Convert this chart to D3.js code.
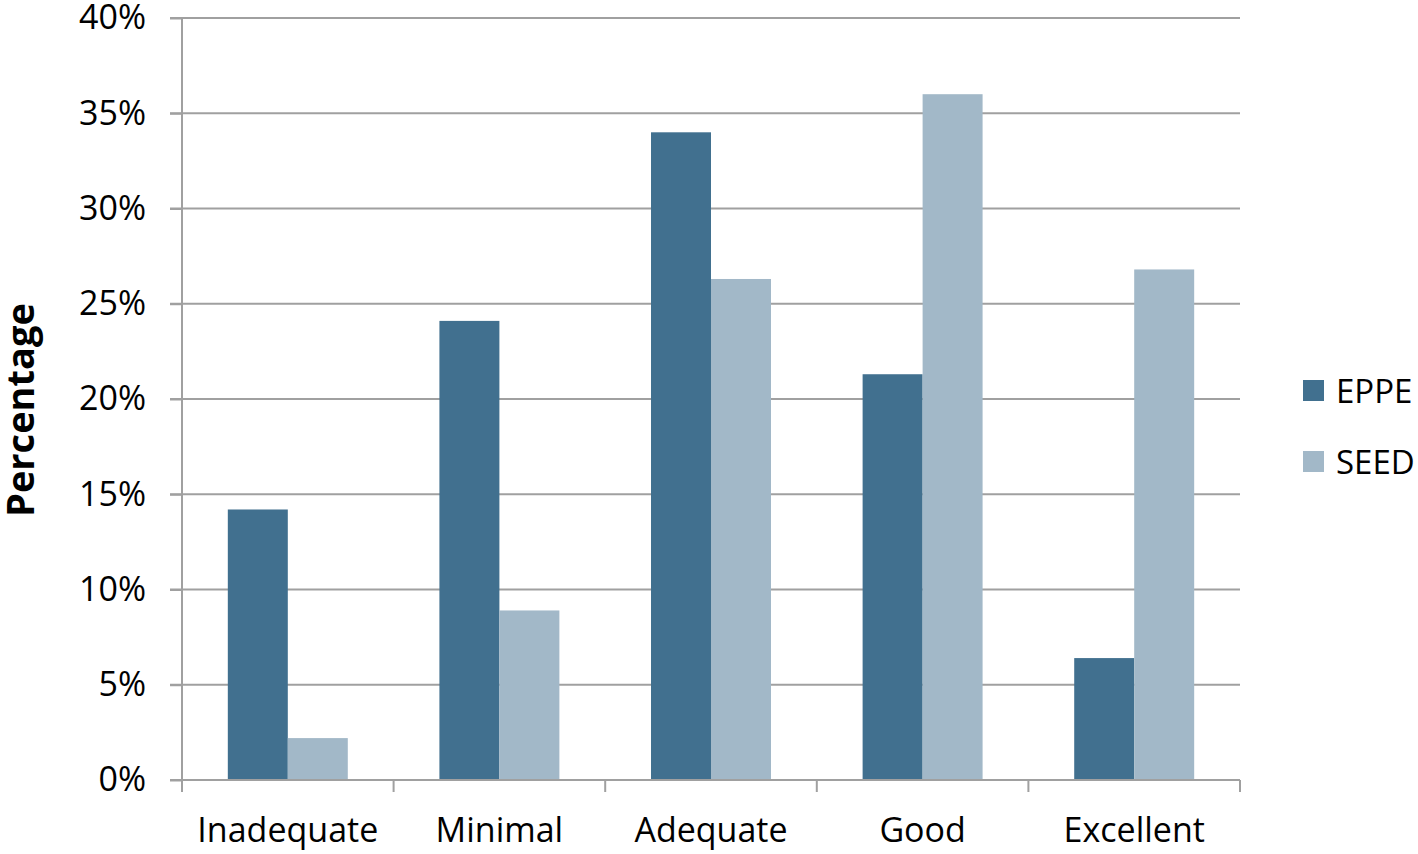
<!DOCTYPE html>
<html><head><meta charset="utf-8">
<script src="https://cdn.jsdelivr.net/npm/d3@7"></script>
<style>body{margin:0;background:#fff}svg{display:block}text{font-family:"Open Sans",sans-serif}</style>
</head><body><svg id="c" width="1418" height="854"></svg>
<script>
const categories = ["Inadequate","Minimal","Adequate","Good","Excellent"];
const seriesNames = ["EPPE","SEED"];
const eppe = [14.2, 24.1, 34.0, 21.3, 6.4];
const seed = [2.2, 8.9, 26.3, 36.0, 26.8];
const yTicks = [0,5,10,15,20,25,30,35,40];
const colors = ["#41708f","#a2b8c8"];

const svg = d3.select("#c");
const m = {l:182, r:1240, t:18, b:780};
const x = d3.scaleBand().domain(categories).range([m.l, m.r]).padding(0);
const y = d3.scaleLinear().domain([0,40]).range([m.b, m.t]);
const groupW = x.bandwidth()*0.567;
const xs = d3.scaleBand().domain(seriesNames).range([0, groupW]).padding(0);
const gridColor = "#a0a0a0";

// gridlines
svg.append("g").selectAll("line").data(yTicks).join("line")
  .attr("x1", m.l-12).attr("x2", m.r).attr("y1", d=>y(d)).attr("y2", d=>y(d))
  .attr("stroke", gridColor).attr("stroke-width", 2);

// bars
const data = [eppe, seed];
seriesNames.forEach((s, si) => {
  svg.append("g").selectAll("rect").data(categories).join("rect")
    .attr("x", c => x(c) + (x.bandwidth()-groupW)/2 + xs(s))
    .attr("width", xs.bandwidth())
    .attr("y", (c,i) => y(data[si][i]))
    .attr("height", (c,i) => y(0) - y(data[si][i]))
    .attr("fill", colors[si]);
});

// y axis
const ya = svg.append("g").attr("transform", `translate(${m.l},0)`)
  .call(d3.axisLeft(y).tickValues(yTicks).tickFormat(d=>d+"%").tickSize(12).tickPadding(24));
ya.select(".domain").attr("stroke", gridColor).attr("stroke-width", 2).attr("d", `M0,${m.t}V${m.b}`);
ya.selectAll(".tick line").attr("stroke", gridColor).attr("stroke-width", 2);
ya.selectAll(".tick text").attr("font-size", 34).attr("fill", "#000").attr("font-family", "Open Sans");

// x axis
const xa = svg.append("g").attr("transform", `translate(0,${m.b})`)
  .call(d3.axisBottom(x).tickSize(0).tickPadding(38));
xa.select(".domain").attr("stroke", gridColor).attr("stroke-width", 2).attr("d", `M${m.l-12},0H${m.r}`);
xa.selectAll(".tick text").attr("font-size", 34).attr("fill", "#000").attr("font-family", "Open Sans");
const bounds = [...categories.map(c => x(c)), m.r];
xa.append("g").selectAll("line").data(bounds).join("line")
  .attr("x1", d=>d).attr("x2", d=>d).attr("y1", 0).attr("y2", 12)
  .attr("stroke", gridColor).attr("stroke-width", 2);

// y title
svg.append("text").attr("transform", `translate(34,${(m.t+m.b)/2 + 11}) rotate(-90)`)
  .attr("text-anchor","middle").attr("font-size", 38).attr("font-weight","bold")
  .attr("font-family","Open Sans").text("Percentage");

// legend
const lg = svg.append("g");
seriesNames.forEach((s,i) => {
  const yy = 391 + i*71;
  lg.append("rect").attr("x",1303).attr("y",yy-11).attr("width",21).attr("height",21).attr("fill",colors[i]);
  lg.append("text").attr("x",1336).attr("y",yy).attr("dy","0.35em").attr("font-size",33).text(s);
});
</script></body></html>
